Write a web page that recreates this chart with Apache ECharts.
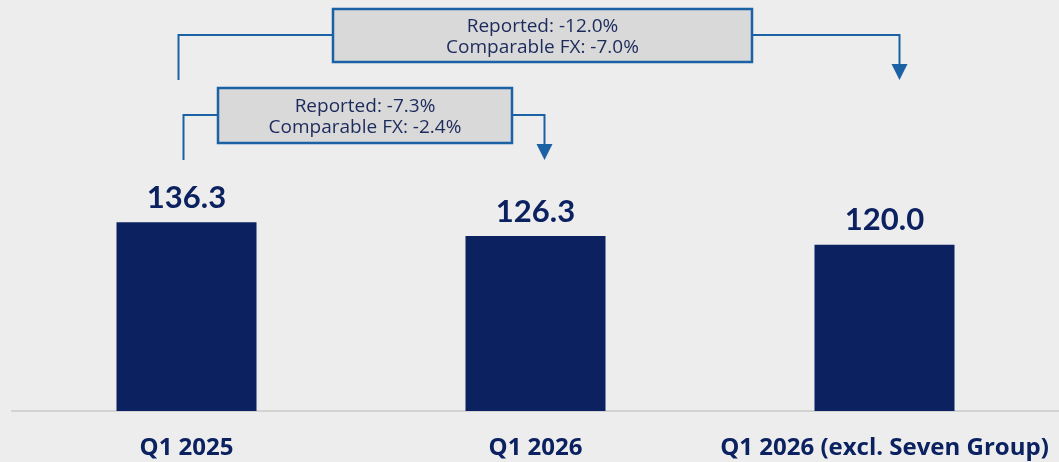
<!DOCTYPE html>
<html>
<head>
<meta charset="utf-8">
<script src="https://cdn.jsdelivr.net/npm/echarts@6/dist/echarts.min.js"></script>
<style>
  * { margin: 0; padding: 0; }
  html, body { width: 1059px; height: 462px; background: #ededed; }
  #chart { width: 1059px; height: 462px; }
</style>
</head>
<body>
<div id="chart"></div>
<script>
// data
const categories = ['Q1 2025', 'Q1 2026', 'Q1 2026 (excl. Seven Group)']
const revenue = [136.3, 126.3, 120.0]
// comparisons: from index -> to index, reported, comparable fx
const compareFrom = [0, 0]
const compareTo = [1, 2]
const reported = ['-7.3%', '-12.0%']
const comparableFx = ['-2.4%', '-7.0%']

const navy = '#0b2160'
const boxBlue = '#1a62a3'
const valueFont = 'Lato, sans-serif'
const textFont = '"Open Sans", sans-serif'

const chart = echarts.init(document.getElementById('chart'))
chart.setOption({
  backgroundColor: '#ededed',
  animation: false,
  grid: { left: 12, right: -4, top: 134, bottom: 51 },
  xAxis: {
    type: 'category',
    data: categories,
    axisLine: { lineStyle: { color: '#d2d2d2', width: 2 } },
    axisTick: { show: false },
    axisLabel: {
      interval: 0,
      color: navy,
      fontFamily: textFont,
      fontWeight: 'bold',
      fontSize: 24,
      margin: 25
    }
  },
  yAxis: {
    type: 'value',
    min: 0,
    max: 200,
    show: false,
    splitLine: { show: false }
  },
  series: [
    {
      type: 'bar',
      data: revenue,
      barWidth: 140,
      itemStyle: { color: navy },
      label: {
        show: true,
        position: 'top',
        distance: 9,
        color: navy,
        fontFamily: valueFont,
        fontWeight: 'bold',
        fontSize: 31,
        formatter: p => p.value.toFixed(1)
      }
    }
  ]
})

// comparison brackets, placed from the category positions
const px = i => chart.convertToPixel({ xAxisIndex: 0 }, i)
const boxes = [
  { top: 88, h: 55, lineY: 115, bottom: 160, leftOff: -3, arrowOff: 9, boxL: 218, boxR: 512 },
  { top: 9, h: 53, lineY: 35, bottom: 80, leftOff: -8, arrowOff: 15, boxL: 333, boxR: 752 }
]
const graphics = []
boxes.forEach((b, k) => {
  const x1 = px(compareFrom[k]) + b.leftOff
  const x2 = px(compareTo[k]) + b.arrowOff
  const line = { stroke: boxBlue, lineWidth: 2 }
  graphics.push({
    type: 'polyline', silent: true,
    shape: { points: [[x1, b.bottom], [x1, b.lineY], [b.boxL, b.lineY]] },
    style: Object.assign({ fill: null }, line)
  })
  graphics.push({
    type: 'polyline', silent: true,
    shape: { points: [[b.boxR, b.lineY], [x2, b.lineY], [x2, b.bottom - 14]] },
    style: Object.assign({ fill: null }, line)
  })
  graphics.push({
    type: 'polygon', silent: true,
    shape: { points: [[x2 - 8, b.bottom - 16], [x2 + 8, b.bottom - 16], [x2, b.bottom]] },
    style: { fill: boxBlue }
  })
  graphics.push({
    type: 'rect', silent: true,
    shape: { x: b.boxL, y: b.top, width: b.boxR - b.boxL, height: b.h },
    style: { fill: '#d9d9d9', stroke: boxBlue, lineWidth: 2.5 }
  })
  graphics.push({
    type: 'text', silent: true,
    x: (b.boxL + b.boxR) / 2, y: b.top + b.h / 2 + 2,
    style: {
      text: 'Reported: ' + reported[k] + '\nComparable FX: ' + comparableFx[k],
      fill: '#1c2a5c',
      font: '19px ' + textFont,
      lineHeight: 21,
      align: 'center',
      verticalAlign: 'middle'
    }
  })
})
chart.setOption({ graphic: graphics })
</script>
</body>
</html>
